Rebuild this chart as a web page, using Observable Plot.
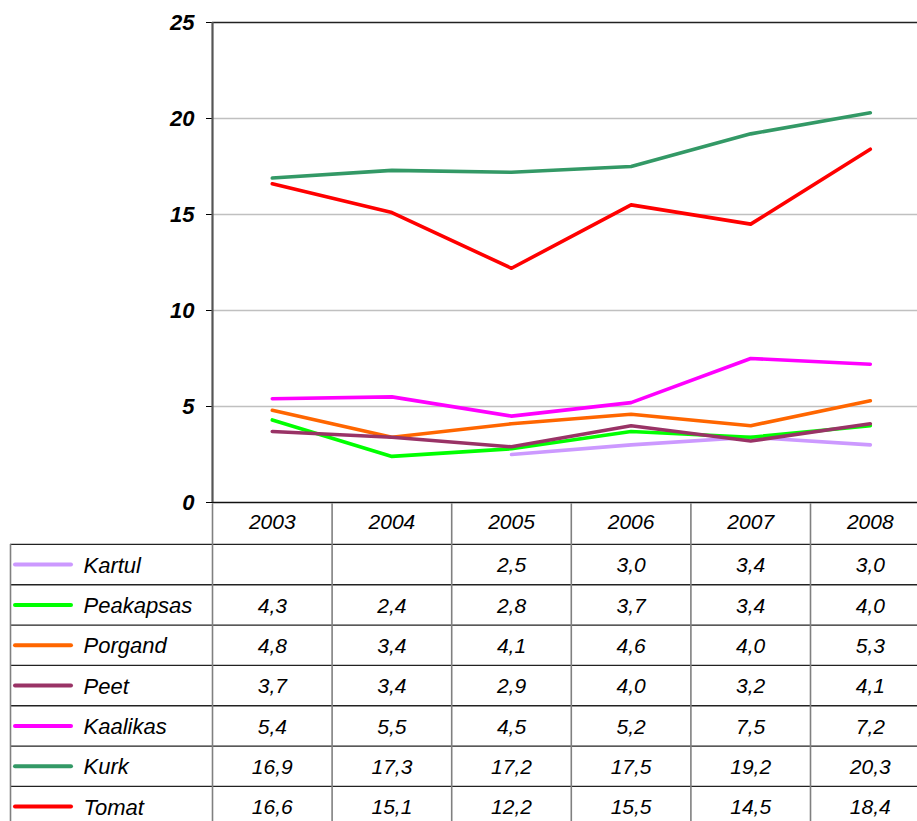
<!DOCTYPE html>
<html><head><meta charset="utf-8">
<script src="https://cdn.jsdelivr.net/npm/d3@7"></script>
<script src="https://cdn.jsdelivr.net/npm/@observablehq/plot@0.6"></script>
<style>
html,body{margin:0;padding:0;background:#fff;width:917px;height:821px;overflow:hidden;position:relative}
#table{position:absolute;left:0;top:502px;z-index:1}
#chart{position:absolute;left:0;top:0;z-index:2}
#chart svg{overflow:visible}
#chart svg text{font-size:22px !important;font-weight:700 !important;font-style:italic !important}
</style></head>
<body><div id="table"></div><div id="chart"></div>
<script>
const years = [2003, 2004, 2005, 2006, 2007, 2008];
const seriesNames = ["Kartul", "Peakapsas", "Porgand", "Peet", "Kaalikas", "Kurk", "Tomat"];
const seriesColors = ["#cc99ff", "#00ff00", "#ff6600", "#993366", "#ff00ff", "#339966", "#ff0000"];
const kartul    = [null, null, 2.5, 3.0, 3.4, 3.0];
const peakapsas = [4.3, 2.4, 2.8, 3.7, 3.4, 4.0];
const porgand   = [4.8, 3.4, 4.1, 4.6, 4.0, 5.3];
const peet      = [3.7, 3.4, 2.9, 4.0, 3.2, 4.1];
const kaalikas  = [5.4, 5.5, 4.5, 5.2, 7.5, 7.2];
const kurk      = [16.9, 17.3, 17.2, 17.5, 19.2, 20.3];
const tomat     = [16.6, 15.1, 12.2, 15.5, 14.5, 18.4];
const yTicks = [0, 5, 10, 15, 20, 25];

const seriesValues = [kartul, peakapsas, porgand, peet, kaalikas, kurk, tomat];
const long = [];
seriesNames.forEach((name, i) => years.forEach((yr, j) => {
  if (seriesValues[i][j] != null) long.push({name, year: yr, value: seriesValues[i][j]});
}));

// layout
const W = 917;
const plotLeft = 212, colW = 119.6;
const xDomain = [years[0] - 0.5, years[years.length - 1] + 0.5];
const xRange = [plotLeft, plotLeft + colW * years.length];
const px2x = p => xDomain[0] + (p - plotLeft) / colW;
const font = "'Liberation Sans', Arial, Helvetica, sans-serif";
const color = {domain: seriesNames, range: seriesColors};

const chart = Plot.plot({
  width: W, height: 503,
  marginTop: 22, marginBottom: 1, marginLeft: plotLeft, marginRight: 0,
  style: {fontFamily: font, fontSize: "22px", fontWeight: "bold", fontStyle: "italic", background: "transparent", color: "#000", overflow: "visible"},
  x: {domain: xDomain, range: xRange, axis: null},
  y: {domain: [0, 25], ticks: yTicks, tickSize: 6, tickPadding: 12, tickFormat: d => String(d), label: null},
  color,
  marks: [
    Plot.ruleY(yTicks.filter(t => t > 0 && t < 25), {stroke: "#c0c0c0", strokeWidth: 1.3}),
    Plot.ruleY([25], {stroke: "#222", strokeWidth: 1.5}),
    Plot.ruleY([0], {stroke: "#111", strokeWidth: 1.5}),
    Plot.ruleX([xDomain[0]], {stroke: "#555", strokeWidth: 2.2}),
    Plot.line(long, {x: "year", y: "value", z: "name", stroke: "name", strokeWidth: 3.6,
      strokeLinecap: "round", strokeLinejoin: "round"})
  ]
});
document.getElementById("chart").appendChild(chart);

// table
const rows = seriesNames.map((name, i) => ({name, row: i + 1, vals: seriesValues[i]}));
const cells = [];
rows.forEach(r => years.forEach((yr, j) => {
  if (r.vals[j] != null) cells.push({year: yr, row: r.row, label: r.vals[j].toFixed(1).replace(".", ",")});
}));
const tableLeft = px2x(10), swatch1 = px2x(15), swatch2 = px2x(71), labelX = px2x(83);
const bounds = d3.range(years.length + 1).map(k => xDomain[0] + k);

const table = Plot.plot({
  width: W, height: 319,
  margin: 0,
  style: {fontFamily: font, fontSize: "21px", fontStyle: "italic", background: "white", color: "#000"},
  x: {domain: xDomain, range: xRange, axis: null},
  y: {domain: [0, 8], range: [1.6, 324.2], axis: null},
  color,
  marks: [
    Plot.ruleY(d3.range(1, 9), {x1: tableLeft, x2: xDomain[1], stroke: "#222", strokeWidth: 1.3}),
    Plot.ruleX(bounds, {y1: 0, y2: 8, stroke: "#808080", strokeWidth: 1.6}),
    Plot.ruleX([tableLeft], {y1: 1, y2: 8, stroke: "#808080", strokeWidth: 1.6}),
    Plot.text(years, {x: d => d, y: 0.5, text: d => String(d), dy: -2, fontSize: 21}),
    Plot.ruleY(rows, {y: d => d.row + 0.5, x1: swatch1, x2: swatch2, stroke: "name", strokeWidth: 4, strokeLinecap: "round"}),
    Plot.text(rows, {x: labelX, y: d => d.row + 0.5, text: "name", textAnchor: "start", dy: 1, fontSize: 22}),
    Plot.text(cells, {x: "year", y: d => d.row + 0.5, text: "label", dy: 1, fontSize: 21})
  ]
});
document.getElementById("table").appendChild(table);
</script></body></html>
